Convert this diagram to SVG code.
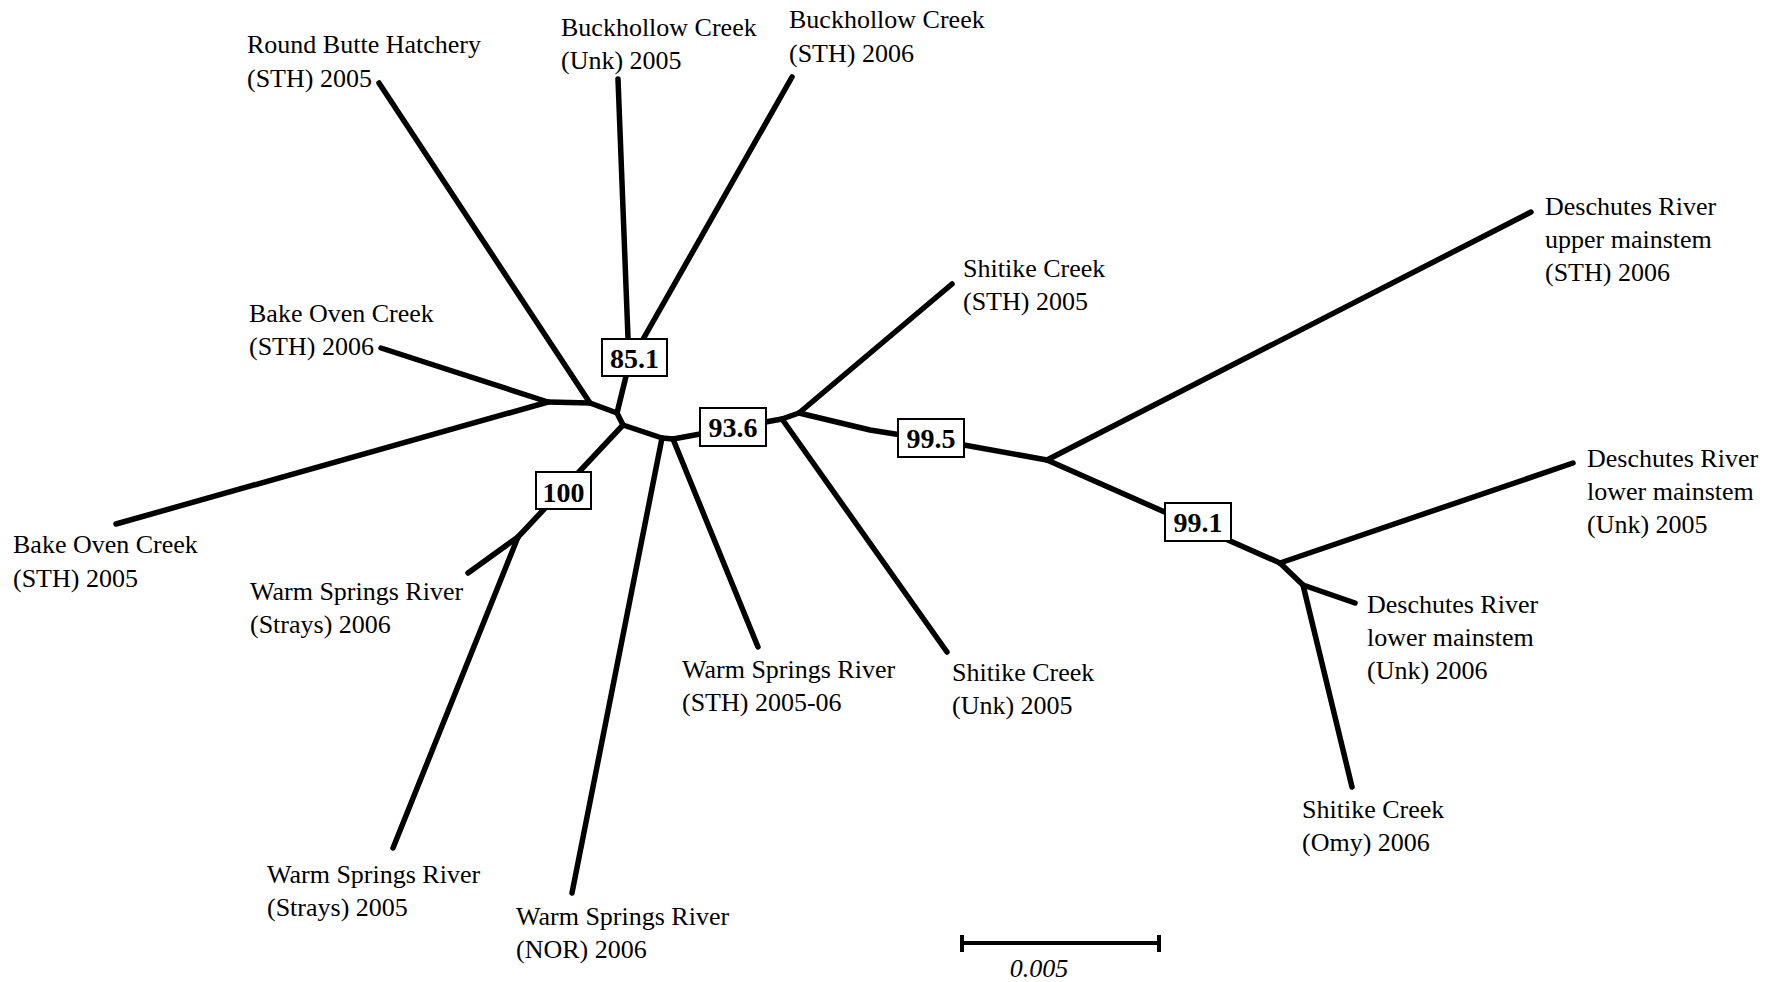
<svg xmlns="http://www.w3.org/2000/svg" width="1777" height="982" viewBox="0 0 1777 982">
<style>
.e{fill:none;stroke:#000;stroke-width:5.5;stroke-linecap:round;stroke-linejoin:round}
.lbl{font-family:"Liberation Serif","Times New Roman",serif;font-size:26px;fill:#000}
.bx{fill:#fff;stroke:#000;stroke-width:2}
.bt{font-family:"Liberation Serif","Times New Roman",serif;font-size:28px;font-weight:bold;fill:#000;text-anchor:middle}
.sc{fill:none;stroke:#000;stroke-width:4}
</style>
<rect width="1777" height="982" fill="#fff"/>
<g id="connectors">
<polyline class="e" points="379,83 590,403"/>
<polyline class="e" points="381,348 548,402"/>
<polyline class="e" points="116,524 548,402"/>
<polyline class="e" points="548,402 590,403 617,413"/>
<polyline class="e" points="618,79 629,364"/>
<polyline class="e" points="792,77 629,364"/>
<polyline class="e" points="629,364 617,413 623,425"/>
<polyline class="e" points="623,425 518,537"/>
<polyline class="e" points="518,537 468,573"/>
<polyline class="e" points="518,537 393,848"/>
<polyline class="e" points="623,425 662,438 673,439"/>
<polyline class="e" points="662,438 572,893"/>
<polyline class="e" points="673,439 758,647"/>
<polyline class="e" points="673,439 782,419 799,413"/>
<polyline class="e" points="782,419 947,652"/>
<polyline class="e" points="799,413 952,284"/>
<polyline class="e" points="799,413 870,430 964,445 1047,460"/>
<polyline class="e" points="1047,460 1531,212"/>
<polyline class="e" points="1047,460 1280,563"/>
<polyline class="e" points="1280,563 1573,463"/>
<polyline class="e" points="1280,563 1303,585 1355,603"/>
<polyline class="e" points="1303,585 1352,787"/>
</g>
<g id="support-851"><rect class="bx" x="602" y="339" width="65" height="37"/><text class="bt" x="634.5" y="368">85.1</text></g>
<g id="support-936"><rect class="bx" x="700" y="408" width="66" height="38"/><text class="bt" x="733" y="437">93.6</text></g>
<g id="support-100"><rect class="bx" x="536" y="472" width="55" height="37"/><text class="bt" x="563.5" y="502">100</text></g>
<g id="support-995"><rect class="bx" x="898" y="419" width="66" height="38"/><text class="bt" x="931" y="448">99.5</text></g>
<g id="support-991"><rect class="bx" x="1165" y="503" width="66" height="38"/><text class="bt" x="1198" y="532">99.1</text></g>
<g id="round-butte"><text class="lbl" x="247" y="53">Round Butte Hatchery<tspan x="247" y="87">(STH) 2005</tspan></text></g>
<g id="buckhollow-unk"><text class="lbl" x="561" y="36">Buckhollow Creek<tspan x="561" y="69">(Unk) 2005</tspan></text></g>
<g id="buckhollow-sth"><text class="lbl" x="789" y="28">Buckhollow Creek<tspan x="789" y="62">(STH) 2006</tspan></text></g>
<g id="shitike-sth"><text class="lbl" x="963" y="277">Shitike Creek<tspan x="963" y="310">(STH) 2005</tspan></text></g>
<g id="bake-oven-2006"><text class="lbl" x="249" y="322">Bake Oven Creek<tspan x="249" y="355">(STH) 2006</tspan></text></g>
<g id="bake-oven-2005"><text class="lbl" x="13" y="553">Bake Oven Creek<tspan x="13" y="587">(STH) 2005</tspan></text></g>
<g id="ws-strays-2006"><text class="lbl" x="250" y="600">Warm Springs River<tspan x="250" y="633">(Strays) 2006</tspan></text></g>
<g id="ws-strays-2005"><text class="lbl" x="267" y="883">Warm Springs River<tspan x="267" y="916">(Strays) 2005</tspan></text></g>
<g id="ws-nor"><text class="lbl" x="516" y="925">Warm Springs River<tspan x="516" y="958">(NOR) 2006</tspan></text></g>
<g id="ws-sth"><text class="lbl" x="682" y="678">Warm Springs River<tspan x="682" y="711">(STH) 2005-06</tspan></text></g>
<g id="shitike-unk"><text class="lbl" x="952" y="681">Shitike Creek<tspan x="952" y="714">(Unk) 2005</tspan></text></g>
<g id="deschutes-upper"><text class="lbl" x="1545" y="215">Deschutes River<tspan x="1545" y="248">upper mainstem</tspan><tspan x="1545" y="281">(STH) 2006</tspan></text></g>
<g id="deschutes-lower-2005"><text class="lbl" x="1587" y="467">Deschutes River<tspan x="1587" y="500">lower mainstem</tspan><tspan x="1587" y="533">(Unk) 2005</tspan></text></g>
<g id="deschutes-lower-2006"><text class="lbl" x="1367" y="613">Deschutes River<tspan x="1367" y="646">lower mainstem</tspan><tspan x="1367" y="679">(Unk) 2006</tspan></text></g>
<g id="shitike-omy"><text class="lbl" x="1302" y="818">Shitike Creek<tspan x="1302" y="851">(Omy) 2006</tspan></text></g>
<g id="scale-bar">
<line class="sc" x1="962" y1="943" x2="1159" y2="943"/>
<line class="sc" x1="962" y1="935" x2="962" y2="952"/>
<line class="sc" x1="1159" y1="935" x2="1159" y2="952"/>
<text class="lbl" x="1039" y="977" text-anchor="middle" font-style="italic">0.005</text>
</g>
</svg>
